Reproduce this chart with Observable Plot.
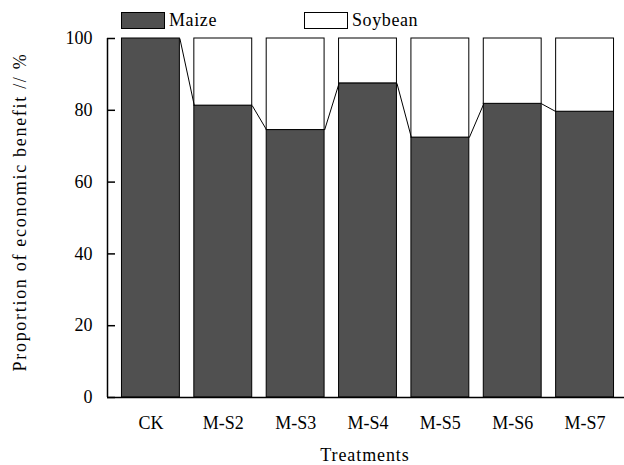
<!DOCTYPE html>
<html><head><meta charset="utf-8">
<script src="https://cdn.jsdelivr.net/npm/d3@7"></script>
<script src="https://cdn.jsdelivr.net/npm/@observablehq/plot@0.6"></script>
<style>
body{margin:0;background:#fff;}
#wrap{position:relative;width:624px;height:465px;overflow:hidden;}
.legend{position:absolute;top:0;left:0;width:624px;height:36px;font-family:"Liberation Serif",serif;font-size:18px;color:#000;}
.item{position:absolute;top:11px;height:18px;display:flex;align-items:center;}
.sw{width:42px;height:15px;border:1px solid #000;box-sizing:content-box;margin-right:4px;}
.lab{letter-spacing:0.6px;line-height:18px;}
</style></head><body>
<div id="wrap"><div id="chart"></div>
<div class="legend" id="legend"></div>
</div>
<script>
const treatments = ["CK","M-S2","M-S3","M-S4","M-S5","M-S6","M-S7"];
const maize = [100, 81.3, 74.5, 87.5, 72.4, 81.8, 79.6];
const soybean = [0, 18.7, 25.5, 12.5, 27.6, 18.2, 20.4];
const yTicks = [0, 20, 40, 60, 80, 100];
const seriesNames = ["Maize", "Soybean"];
const seriesColors = ["#505050", "#ffffff"];
const xTitle = "Treatments";
const yTitle = "Proportion of economic benefit // %";

const data = treatments.map((t, i) => ({t, i, maize: maize[i], soy: soybean[i]}));
const links = data.slice(1).map((d, k) => ({a: data[k], b: d}));
const half = 0.4;
const xDomain = [-0.6, treatments.length - 1 + 0.6];

const chart = Plot.plot({
  width: 624, height: 465,
  marginLeft: 107, marginRight: -4, marginTop: 38, marginBottom: 68,
  style: {fontFamily: "Liberation Serif, serif", fontSize: "18px", color: "#000", background: "#fff"},
  x: {type: "linear", domain: xDomain},
  y: {domain: [0, 100]},
  marks: [
    Plot.rectY(data, {x1: d => d.i - half, x2: d => d.i + half, y1: 0, y2: "maize", fill: seriesColors[0], stroke: "#000", strokeWidth: 1}),
    Plot.rectY(data, {x1: d => d.i - half, x2: d => d.i + half, y1: "maize", y2: d => d.maize + d.soy, fill: seriesColors[1], stroke: "#000", strokeWidth: 1}),
    Plot.link(links, {x1: d => d.a.i + half, y1: d => d.a.maize, x2: d => d.b.i - half, y2: d => d.b.maize, stroke: "#000", strokeWidth: 1}),
    Plot.ruleY([0], {stroke: "#000", strokeWidth: 1.5}),
    Plot.ruleX([xDomain[0]], {stroke: "#000", strokeWidth: 1.5}),
    Plot.axisY({ticks: yTicks, tickSize: -8, tickFormat: () => "", label: null, stroke: "#000", strokeWidth: 1.5}),
    Plot.axisY({ticks: yTicks, tickSize: 0, tickPadding: 15, label: null, fill: "#000"}),
    Plot.axisX({ticks: data.map(d => d.i), tickFormat: i => treatments[i], tickSize: 0, tickPadding: 19, label: null, fill: "#000"}),
    Plot.text([yTitle], {text: d => d, frameAnchor: "left", textAnchor: "middle", dx: -87, dy: -6, rotate: -90, fontSize: 18, fill: "#000"}),
    Plot.text([xTitle], {text: d => d, frameAnchor: "bottom", dy: 63, dx: -3, fontSize: 18, fill: "#000"})
  ]
});
d3.select(chart).selectAll("text").each(function() {
  const t = this.textContent;
  if (t === yTitle) this.setAttribute("letter-spacing", "1.7");
  if (t === xTitle) this.setAttribute("letter-spacing", "0.9");
});
document.getElementById("chart").appendChild(chart);

const legend = document.getElementById("legend");
const legendX = [121, 304];
seriesNames.forEach((name, k) => {
  const item = document.createElement("div");
  item.className = "item";
  item.style.left = legendX[k] + "px";
  item.innerHTML = `<div class="sw" style="background:${seriesColors[k]}"></div><span class="lab">${name}</span>`;
  legend.appendChild(item);
});
</script>
</body></html>
